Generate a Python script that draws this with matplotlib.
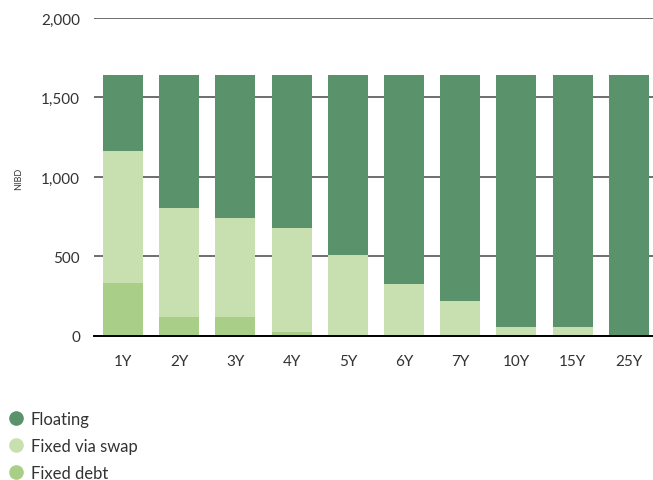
import matplotlib
matplotlib.use("Agg")
import matplotlib.pyplot as plt
from matplotlib.lines import Line2D
import numpy as np

plt.rcParams['font.family'] = ['Lato', 'DejaVu Sans']

tenors = ["1Y", "2Y", "3Y", "4Y", "5Y", "6Y", "7Y", "10Y", "15Y", "25Y"]
fixed_debt = [333, 120, 120, 27, 0, 0, 0, 0, 0, 0]
fixed_swap = [830, 685, 622, 652, 507, 327, 220, 57, 57, 0]
floating = [477, 835, 898, 961, 1133, 1313, 1420, 1583, 1583, 1640]
y_ticks = [0, 500, 1000, 1500, 2000]

c_float = "#5a936b"
c_swap = "#c8dfb0"
c_debt = "#a9ce87"

fig = plt.figure(figsize=(6.53, 4.81), dpi=100)
ax = fig.add_axes([0.144, 0.2994, 0.856, 0.6611])

x = np.arange(len(tenors))
w = 0.71
debt = np.array(fixed_debt)
swap = np.array(fixed_swap)
flt = np.array(floating)
ax.bar(x, debt, width=w, color=c_debt, zorder=3)
ax.bar(x, swap, width=w, bottom=debt, color=c_swap, zorder=3)
ax.bar(x, flt, width=w, bottom=debt + swap, color=c_float, zorder=3)

ax.set_xlim(-0.516, 9.43)
ax.set_ylim(0, 2000)
ax.set_yticks(y_ticks)
ax.set_yticklabels([f"{v:,}" for v in y_ticks])
ax.set_xticks(x)
ax.set_xticklabels(tenors)
ax.yaxis.grid(True, color="#555555", linewidth=1.2, zorder=1)
ax.set_axisbelow(True)
for s in ["left", "right", "top"]:
    ax.spines[s].set_visible(False)
ax.spines["bottom"].set_color("black")
ax.spines["bottom"].set_linewidth(1.4)
ax.spines["bottom"].set_zorder(4)
ax.tick_params(axis="both", length=0, labelsize=11, colors="#333333")
ax.tick_params(axis="y", pad=10)
ax.tick_params(axis="x", pad=13)

fig.text(0.028, 0.628, "NIBD", rotation=90, fontsize=6.5, color="#333333",
         ha="center", va="center")

handles = [
    Line2D([], [], marker="o", linestyle="", markersize=9.5, color=c_float),
    Line2D([], [], marker="o", linestyle="", markersize=9.5, color=c_swap),
    Line2D([], [], marker="o", linestyle="", markersize=9.5, color=c_debt),
]
fig.legend(handles, ["Floating", "Fixed via swap", "Fixed debt"],
           loc="upper left", bbox_to_anchor=(0.012, 0.144),
           bbox_transform=fig.transFigure, frameon=False,
           fontsize=12, handletextpad=0.42, labelspacing=0.66,
           handlelength=0.95, borderaxespad=0, borderpad=0,
           labelcolor="#333333")

fig.savefig("out.png", dpi=100)
